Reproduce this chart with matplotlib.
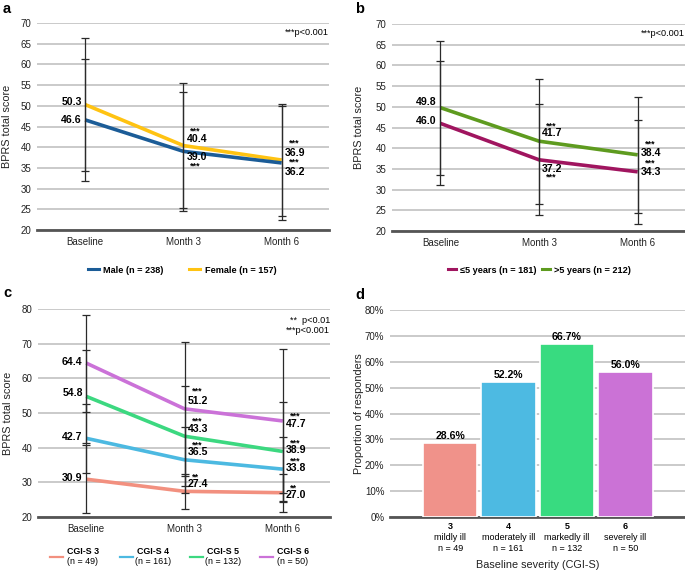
import matplotlib
matplotlib.use("Agg")
import matplotlib.pyplot as plt
from matplotlib.lines import Line2D

plt.rcParams['font.family'] = ['Liberation Sans', 'DejaVu Sans']

# ---------------- data ----------------
timepoints = ["Baseline", "Month 3", "Month 6"]

a_labels = ["Male (n = 238)", "Female (n = 157)"]
a_male = [46.6, 39.0, 36.2]
a_female = [50.3, 40.4, 36.9]
a_male_sd = [14.8, 14.3, 13.8]
a_female_sd = [16.1, 15.2, 13.5]

b_labels = ["\u22645 years (n = 181)", ">5 years (n = 212)"]
b_le5 = [46.0, 37.2, 34.3]
b_gt5 = [49.8, 41.7, 38.4]
b_le5_sd = [15.0, 13.4, 12.5]
b_gt5_sd = [16.2, 15.1, 14.0]

c_names = ["CGI-S 3", "CGI-S 4", "CGI-S 5", "CGI-S 6"]
c_ns = ["(n = 49)", "(n = 161)", "(n = 132)", "(n = 50)"]
c_cgi3 = [30.9, 27.4, 27.0]
c_cgi4 = [42.7, 36.5, 33.8]
c_cgi5 = [54.8, 43.3, 38.9]
c_cgi6 = [64.4, 51.2, 47.7]
c_cgi3_sd = [9.8, 5.0, 5.5]
c_cgi4_sd = [10.0, 9.6, 9.4]
c_cgi5_sd = [13.5, 14.5, 14.3]
c_cgi6_sd = [14.0, 19.4, 20.8]
c_stars = ["**", "***", "***", "***"]

d_levels = ["3", "4", "5", "6"]
d_desc = ["mildly ill", "moderately ill", "markedly ill", "severely ill"]
d_ns = ["n = 49", "n = 161", "n = 132", "n = 50"]
d_values = [28.6, 52.2, 66.7, 56.0]

# ---------------- style ----------------
GRID = '#c6c6c6'
AXIS = '#555555'
ECOL = '#2a2a2a'
TICK_FS = 7
VAL_FS = 7.6
STAR_FS = 6.4

fig = plt.figure(figsize=(6.85, 5.7), dpi=100)

def style_axes(ax, ylim, yticks):
    ax.set_ylim(*ylim)
    ax.set_yticks(yticks)
    ax.yaxis.grid(True, color=GRID, linewidth=1.3)
    ax.set_axisbelow(True)
    for s in ['top', 'right', 'left']:
        ax.spines[s].set_visible(False)
    ax.spines['bottom'].set_color(AXIS)
    ax.spines['bottom'].set_linewidth(2.0)
    ax.tick_params(axis='both', length=0, labelsize=TICK_FS, colors='#222222')
    ax.tick_params(axis='y', pad=4)

def line_panel(ax, series, sds, colors, ylim, yticks):
    x = list(range(len(timepoints)))
    for vals, sd, col in zip(series, sds, colors):
        ax.plot(x, vals, color=col, linewidth=2.6, zorder=3, solid_capstyle='butt')
        ax.errorbar(x, vals, yerr=sd, fmt='none', ecolor=ECOL, elinewidth=0.9,
                    capsize=2.6, capthick=0.9, zorder=4)
    ax.set_xlim(-0.49, 2.48)
    ax.set_xticks(x)
    ax.set_xticklabels(timepoints)
    ax.tick_params(axis='x', pad=5)
    style_axes(ax, ylim, yticks)
    ax.set_ylabel("BPRS total score", fontsize=7.8, color='#222222')

def annotate_series(ax, vals, base_dy, val_dy, star_dy, stars):
    ax.annotate(f"{vals[0]:.1f}", xy=(0, vals[0] + base_dy), xytext=(-2.5, 0),
                textcoords='offset points', ha='right', va='center',
                fontsize=VAL_FS, fontweight='bold', zorder=6)
    for i in (1, 2):
        ax.annotate(f"{vals[i]:.1f}", xy=(i, vals[i] + val_dy[i - 1]), xytext=(2.2, 0),
                    textcoords='offset points', ha='left', va='center',
                    fontsize=VAL_FS, fontweight='bold', zorder=6)
        ax.annotate(stars, xy=(i, vals[i] + star_dy[i - 1]), xytext=(5.0, 0),
                    textcoords='offset points', ha='left', va='center',
                    fontsize=STAR_FS, fontweight='bold', zorder=6)

# ---------------- panel a ----------------
ax_a = fig.add_axes([0.054, 0.5965, 0.426, 0.3631])
col_male, col_female = '#1b5c97', '#ffc312'
line_panel(ax_a, [a_female, a_male], [a_female_sd, a_male_sd],
           [col_female, col_male], (20, 70), range(20, 71, 5))
ax_a.yaxis.set_label_coords(-0.086, 0.5)
annotate_series(ax_a, a_female, 0.7, [1.5, 1.8], [3.5, 4.0], "***")
annotate_series(ax_a, a_male, 0.0, [-1.3, -2.1], [-3.5, 0.1], "***")
ax_a.text(1.0, 0.955, "***p<0.001", transform=ax_a.transAxes, ha='right',
          va='center', fontsize=6.6)
h_a = [Line2D([], [], color=col_male, lw=2.2), Line2D([], [], color=col_female, lw=2.2)]
fig.legend(h_a, a_labels, loc='center', bbox_to_anchor=(0.266, 0.526), ncol=2,
           frameon=False, handlelength=1.2, handletextpad=0.5, columnspacing=2.8,
           prop={'size': 6.6, 'weight': 'bold'})

# ---------------- panel b ----------------
ax_b = fig.add_axes([0.5723, 0.5947, 0.4277, 0.3632])
col_le5, col_gt5 = '#a0155f', '#5e9b1f'
line_panel(ax_b, [b_gt5, b_le5], [b_gt5_sd, b_le5_sd],
           [col_gt5, col_le5], (20, 70), range(20, 71, 5))
ax_b.yaxis.set_label_coords(-0.096, 0.5)
annotate_series(ax_b, b_gt5, 1.4, [1.9, 0.4], [3.7, 2.6], "***")
annotate_series(ax_b, b_le5, 0.6, [-2.3, -0.1], [-4.1, 2.1], "***")
ax_b.text(1.0, 0.955, "***p<0.001", transform=ax_b.transAxes, ha='right',
          va='center', fontsize=6.6)
h_b = [Line2D([], [], color=col_le5, lw=2.2), Line2D([], [], color=col_gt5, lw=2.2)]
fig.legend(h_b, b_labels, loc='center', bbox_to_anchor=(0.787, 0.526), ncol=2,
           frameon=False, handlelength=0.9, handletextpad=0.4, columnspacing=0.6,
           prop={'size': 6.6, 'weight': 'bold'})

# ---------------- panel c ----------------
ax_c = fig.add_axes([0.0555, 0.0930, 0.4263, 0.3649])
c_cols = ['#f2907f', '#4cb9e1', '#3cd880', '#cb72d8']
c_series = [c_cgi3, c_cgi4, c_cgi5, c_cgi6]
c_sds = [c_cgi3_sd, c_cgi4_sd, c_cgi5_sd, c_cgi6_sd]
line_panel(ax_c, c_series, c_sds, c_cols, (20, 80), range(20, 81, 10))
ax_c.yaxis.set_label_coords(-0.086, 0.5)
annotate_series(ax_c, c_cgi6, 0.2, [2.4, -0.9], [5.0, 1.4], c_stars[3])
annotate_series(ax_c, c_cgi5, 1.0, [2.0, 0.4], [4.5, 2.5], c_stars[2])
annotate_series(ax_c, c_cgi4, 0.3, [2.2, 0.2], [4.3, 2.4], c_stars[1])
annotate_series(ax_c, c_cgi3, 0.3, [2.1, -0.8], [4.2, 1.3], c_stars[0])
ax_c.text(1.0, 0.945, "**  p<0.01", transform=ax_c.transAxes, ha='right',
          va='center', fontsize=6.6)
ax_c.text(1.0, 0.897, "***p<0.001", transform=ax_c.transAxes, ha='right',
          va='center', fontsize=6.6)
leg_x0 = 50 / 685
leg_dx = 70 / 685
for k, (name, nn, col) in enumerate(zip(c_names, c_ns, c_cols)):
    xl = leg_x0 + k * leg_dx
    fig.add_artist(Line2D([xl, xl + 13 / 685], [0.023, 0.023], color=col, lw=1.6,
                          transform=fig.transFigure))
    fig.text(xl + 33 / 685, 0.032, name, ha='center', va='center', fontsize=6.4,
             fontweight='bold')
    fig.text(xl + 33 / 685, 0.015, nn, ha='center', va='center', fontsize=6.4)

# ---------------- panel d ----------------
ax_d = fig.add_axes([0.5693, 0.0930, 0.4307, 0.3631])
d_cols = ['#f0928a', '#4dbae2', '#38db80', '#cb72d6']
xd = list(range(len(d_values)))
ax_d.bar(xd, d_values, width=0.93, color=d_cols,
         edgecolor='white', linewidth=1.2, zorder=3)
ax_d.set_xlim(-1.03, 4.02)
style_axes(ax_d, (0, 80), range(0, 81, 10))
ax_d.set_yticklabels([f"{t}%" for t in range(0, 81, 10)])
ax_d.set_xticks([])
for xi, v in zip(xd, d_values):
    ax_d.text(xi, v + 0.8, f"{v:.1f}%", ha='center', va='bottom', fontsize=VAL_FS,
              fontweight='bold')
tr = ax_d.get_xaxis_transform()
for xi, lv, ds, nn in zip(xd, d_levels, d_desc, d_ns):
    ax_d.text(xi, -0.048, lv, transform=tr, ha='center', va='center',
              fontsize=6.5, fontweight='bold')
    ax_d.text(xi, -0.100, ds, transform=tr, ha='center', va='center', fontsize=6.5)
    ax_d.text(xi, -0.150, nn, transform=tr, ha='center', va='center', fontsize=6.5)
ax_d.text(1.5, -0.232, "Baseline severity (CGI-S)", transform=tr, ha='center',
          va='center', fontsize=7.8, color='#222222')
ax_d.set_ylabel("Proportion of responders", fontsize=7.8, color='#222222')
ax_d.yaxis.set_label_coords(-0.088, 0.5)

# ---------------- panel letters ----------------
for txt, x, y in [("a", 3, 9), ("b", 355, 9), ("c", 3, 293), ("d", 355, 295)]:
    fig.text(x / 685, 1 - y / 570, txt, ha='left', va='center', fontsize=10.5,
             fontweight='bold')

fig.savefig("out.png", dpi=100)
